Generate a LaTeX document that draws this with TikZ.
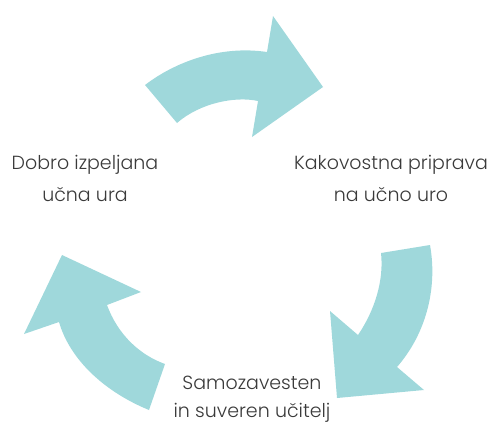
\documentclass[tikz,border=0pt]{standalone}
\usepackage{fontspec}
\IfFontExistsTF{Poppins Light}{\setmainfont{Poppins Light}}{\setmainfont{Poppins}}
\definecolor{teal}{HTML}{9FD8DB}
\definecolor{textgray}{HTML}{3A3A3A}

\begin{document}
\begin{tikzpicture}[x=1pt, y=-1pt,
    cyclearrow/.style={fill=teal, draw=none},
    steptext/.style={align=center, text=textgray, inner sep=0pt}]
    \useasboundingbox (0,0) rectangle (489,423);

    % top arrow
    \fill[cyclearrow] (145,85) .. controls (175,62) and (220,45) .. (267,52) -- (273,16) -- (323,87)
        -- (252,137) -- (258,101) .. controls (235,96) and (200,103) .. (177,123) -- cycle;
    % right arrow
    \fill[cyclearrow] (430,245) .. controls (438,290) and (425,335) .. (397,367) -- (424,390) -- (337,398)
        -- (330,311) -- (358,335) .. controls (375,310) and (384,280) .. (381,253) -- cycle;
    % left arrow
    \fill[cyclearrow] (149,410) .. controls (105,392) and (70,360) .. (59,322) -- (24,334) -- (62,255)
        -- (141,292) -- (107,305) .. controls (118,335) and (140,355) .. (165,364) -- cycle;

    \node[steptext, font=\fontsize{19}{32}\selectfont] (lesson) at (85,178) {Dobro izpeljana\\u\v{c}na ura};
    \node[steptext, font=\fontsize{19}{32}\selectfont] (prep) at (391,178) {Kakovostna priprava\\na u\v{c}no uro};
    \node[steptext, font=\fontsize{19}{28}\selectfont] (teacher) at (252,399) {Samozavesten\\in suveren u\v{c}itelj};
\end{tikzpicture}
\end{document}
